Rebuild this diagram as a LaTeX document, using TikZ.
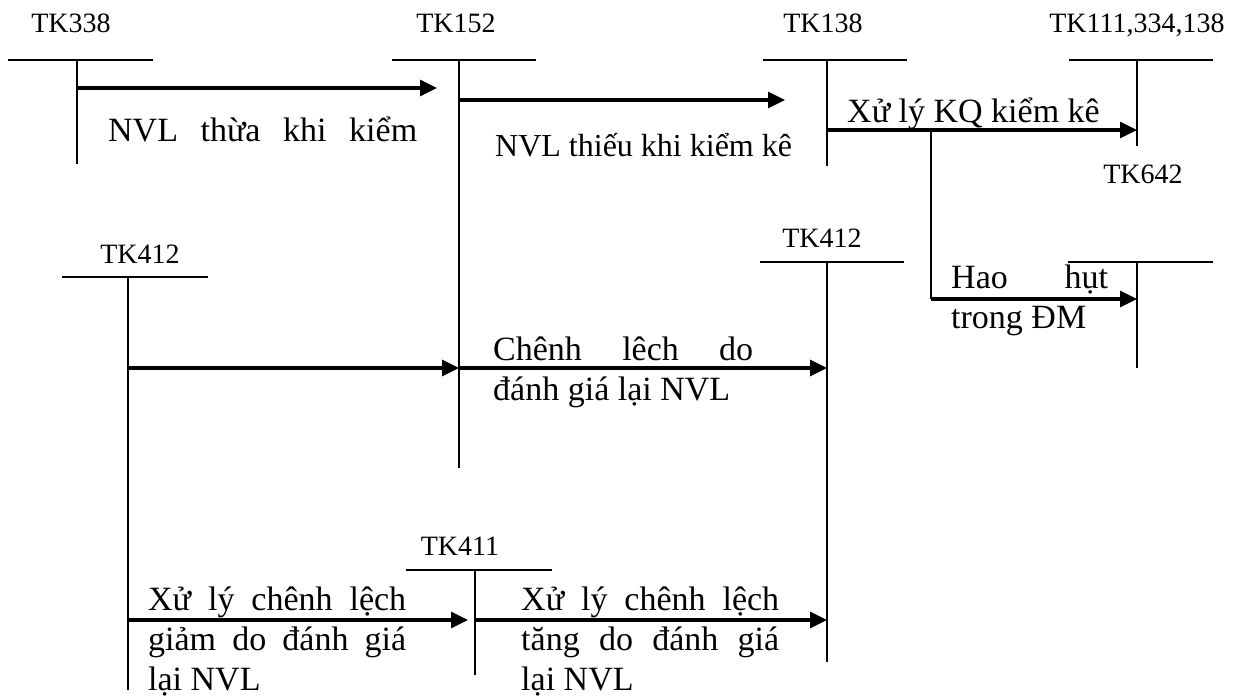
\documentclass[tikz,border=0pt]{standalone}
\usepackage{fontspec}
\setmainfont{Liberation Serif}
\usetikzlibrary{arrows.meta}

\begin{document}
\begin{tikzpicture}[x=1pt, y=-1pt,
    acct/.style={line width=2.3pt},
    flow/.style={line width=3.2pt, -{Triangle[length=17pt, width=16pt]}},
    tk/.style={font=\fontsize{28}{32}\selectfont, anchor=base, inner sep=0pt},
    note/.style={font=\fontsize{34}{40}\selectfont, anchor=base west, inner sep=0pt, align=left}]
    \useasboundingbox (0, 0) rectangle (1247, 700);

    % account names
    \node[tk] (N338) at (71, 33) {TK338};
    \node[tk] (N152) at (456, 33) {TK152};
    \node[tk] (N138) at (823, 33) {TK138};
    \node[tk] (N111) at (1137, 33) {TK111,334,138};
    \node[tk] (N642) at (1143, 184) {TK642};
    \node[tk] (N412a) at (140, 264) {TK412};
    \node[tk] (N412b) at (822, 248) {TK412};
    \node[tk] (N411) at (460, 555) {TK411};

    % T accounts
    \draw[acct] (8, 60) -- (153, 60);     \draw[acct] (77, 60) -- (77, 164);
    \draw[acct] (392, 60) -- (536, 60);   \draw[acct] (459, 60) -- (459, 468);
    \draw[acct] (763, 60) -- (907, 60);   \draw[acct] (827, 60) -- (827, 166);
    \draw[acct] (1069, 60) -- (1213, 60); \draw[acct] (1137, 60) -- (1137, 146);
    \draw[acct] (1068, 262) -- (1213, 262); \draw[acct] (1137, 262) -- (1137, 368);
    \draw[acct] (62, 277) -- (208, 277);  \draw[acct] (128, 277) -- (128, 690);
    \draw[acct] (760, 262) -- (904, 262); \draw[acct] (827, 262) -- (827, 662);
    \draw[acct] (406, 570) -- (552, 570); \draw[acct] (475, 570) -- (475, 675);

    % arrow ends
    \coordinate (F1) at (77, 88);    \coordinate (G1) at (437, 88);
    \coordinate (F2) at (459, 100);  \coordinate (G2) at (785, 100);
    \coordinate (F3) at (827, 130);  \coordinate (G3) at (1137, 130);
    \coordinate (F4) at (931, 130);  \coordinate (H4) at (931, 299);
    \coordinate (G4) at (1137, 299);
    \coordinate (F5) at (128, 368);  \coordinate (G5) at (459, 368);
    \coordinate (G6) at (827, 368);
    \coordinate (F7) at (128, 620);  \coordinate (G7) at (468, 620);
    \coordinate (F8) at (475, 620);  \coordinate (G8) at (827, 620);

    \draw[flow] (F1) -- (G1);
    \draw[flow] (F2) -- (G2);
    \draw[flow] (F3) -- (G3);
    \draw[acct] (F4) -- (H4);
    \draw[flow] (H4) -- (G4);
    \draw[flow] (F5) -- (G5);
    \draw[flow] (G5) -- (G6);
    \draw[flow] (F7) -- (G7);
    \draw[flow] (F8) -- (G8);

    % what each entry is for (multi-line ones sit on their last line)
    \node[note] (thua) at (108, 142) {\makebox[309pt][s]{NVL thừa khi kiểm}};
    \node[note, font=\fontsize{32}{40}\selectfont] (thieu) at (495, 157) {NVL thiếu khi kiểm kê};
    \node[note] (kq) at (847, 123) {Xử lý KQ kiểm kê};
    \node[note] (hao) at (951, 329) {\makebox[157pt][s]{Hao hụt}\\trong ĐM};
    \node[note] (chenh) at (493, 400) {\makebox[260pt][s]{Chênh lêch do}\\đánh giá lại NVL};
    \node[note] (giam) at (148, 690) {\makebox[258pt][s]{Xử lý chênh lệch}\\\makebox[258pt][s]{giảm do đánh giá}\\lại NVL};
    \node[note] (tang) at (521, 690) {\makebox[258pt][s]{Xử lý chênh lệch}\\\makebox[258pt][s]{tăng do đánh giá}\\lại NVL};
\end{tikzpicture}
\end{document}
